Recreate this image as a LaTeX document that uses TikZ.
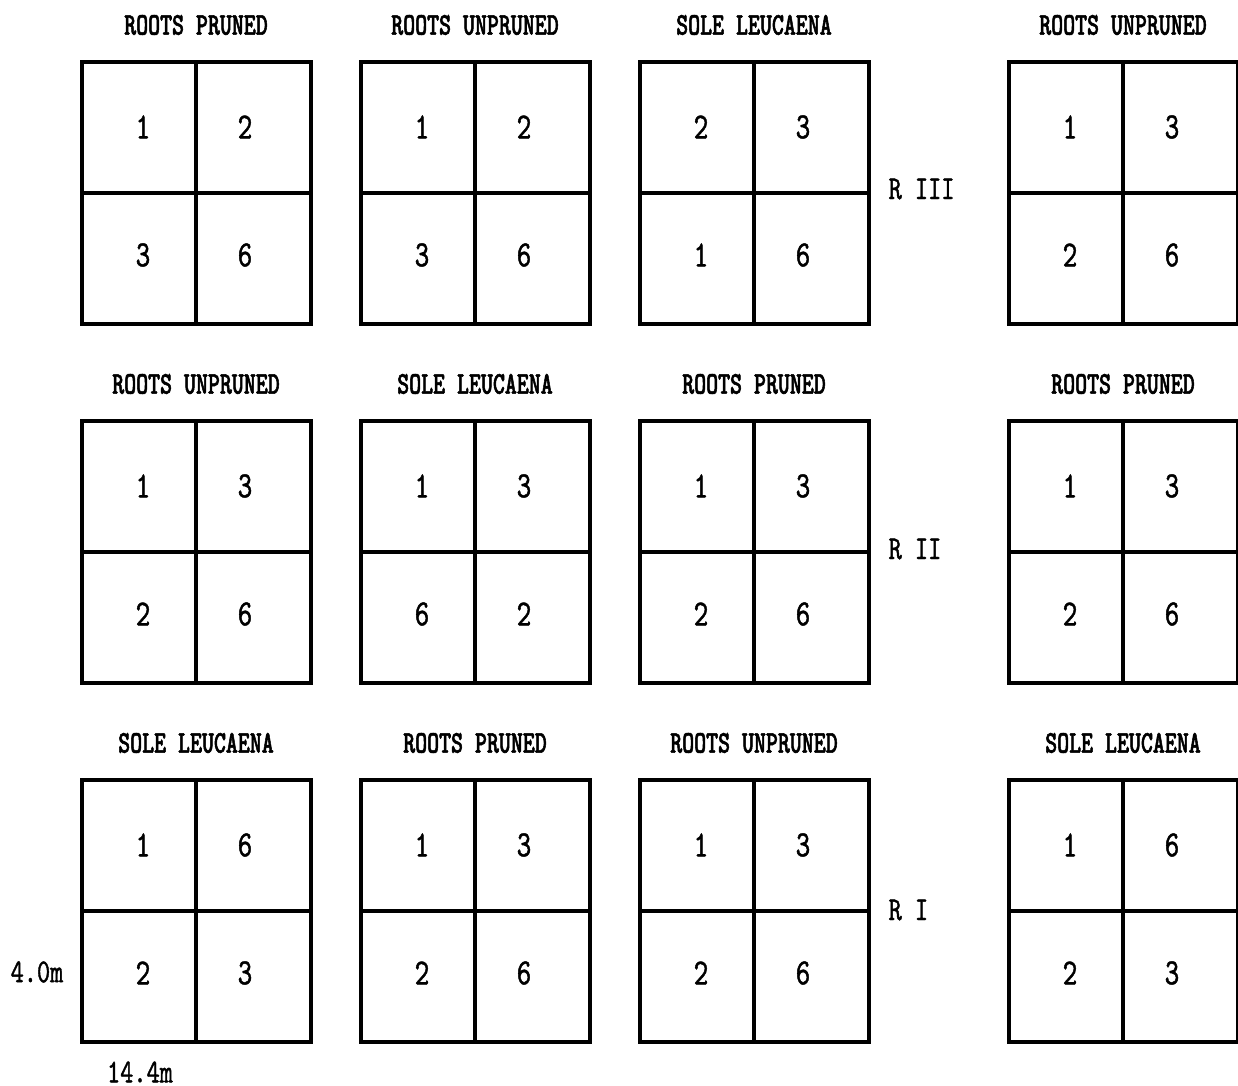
\documentclass[tikz,border=0pt]{standalone}
\usepackage{fontspec}
\newfontfamily\plotfont{lmmono10-regular.otf}[FakeStretch=0.75,FakeBold=1.2,BoldFont=lmmonolt10-bold.otf,BoldFeatures={FakeStretch=0.72,FakeBold=1.6}]
\usetikzlibrary{positioning}
\tikzset{
  plotline/.style={line width=1pt},
  plottitle/.style={font=\plotfont\bfseries\fontsize{9}{10}\selectfont},
  cellnum/.style={font=\plotfont\fontsize{10.5}{12}\selectfont},
  replabel/.style={font=\plotfont\fontsize{9.5}{11}\selectfont,anchor=west,inner sep=0pt},
  dimlabel/.style={font=\plotfont\fontsize{9.5}{11}\selectfont,inner sep=0pt},
}
% one main plot: name, left, top, treatment, four sub-plot numbers
\newcommand{\fieldplot}[8]{%
  \draw[plotline] (#2,#3) rectangle ++(229,262);
  \draw[plotline] (#2+114,#3) -- ++(0,262);
  \draw[plotline] (#2,#3+131) -- ++(229,0);
  \node[plottitle] (#1-title) at (#2+114,#3-37) {#4};
  \node[cellnum] (#1-a) at (#2+61,#3+65) {#5};
  \node[cellnum] (#1-b) at (#2+163,#3+65) {#6};
  \node[cellnum] (#1-c) at (#2+61,#3+193) {#7};
  \node[cellnum] (#1-d) at (#2+163,#3+193) {#8};
}

\begin{document}
\begin{tikzpicture}[x=0.01cm,y=-0.01cm]
  \useasboundingbox (0,0) rectangle (1238,1086);
  % replicate III
  \fieldplot{p11}{82}{62}{ROOTS PRUNED}{1}{2}{3}{6}
  \fieldplot{p12}{361}{62}{ROOTS UNPRUNED}{1}{2}{3}{6}
  \fieldplot{p13}{640}{62}{SOLE LEUCAENA}{2}{3}{1}{6}
  \fieldplot{p14}{1009}{62}{ROOTS UNPRUNED}{1}{3}{2}{6}
  % replicate II
  \fieldplot{p21}{82}{421}{ROOTS UNPRUNED}{1}{3}{2}{6}
  \fieldplot{p22}{361}{421}{SOLE LEUCAENA}{1}{3}{6}{2}
  \fieldplot{p23}{640}{421}{ROOTS PRUNED}{1}{3}{2}{6}
  \fieldplot{p24}{1009}{421}{ROOTS PRUNED}{1}{3}{2}{6}
  % replicate I
  \fieldplot{p31}{82}{780}{SOLE LEUCAENA}{1}{6}{2}{3}
  \fieldplot{p32}{361}{780}{ROOTS PRUNED}{1}{3}{2}{6}
  \fieldplot{p33}{640}{780}{ROOTS UNPRUNED}{1}{3}{2}{6}
  \fieldplot{p34}{1009}{780}{SOLE LEUCAENA}{1}{6}{2}{3}
  \node[replabel] (rep3) at (888,189) {R III};
  \node[replabel] (rep2) at (888,549) {R II};
  \node[replabel] (rep1) at (888,910) {R I};
  \node[dimlabel,anchor=east] (width) at (64,972) {4.0m};
  \node[dimlabel] (length) at (140,1072) {14.4m};
\end{tikzpicture}
\end{document}
